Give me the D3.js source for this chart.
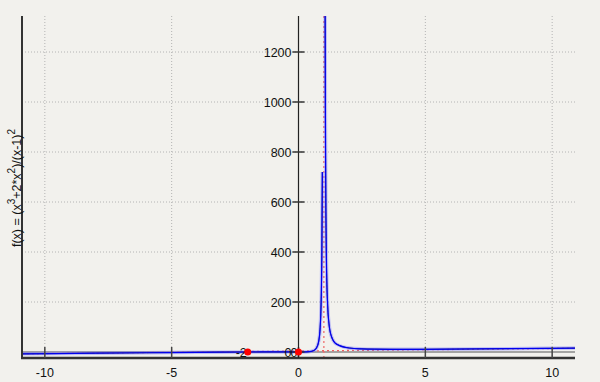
<!DOCTYPE html>
<html>
<head>
<meta charset="utf-8">
<script src="https://cdn.jsdelivr.net/npm/d3@7"></script>
<style>
  body { margin: 0; background: #f2f1ed; }
  svg { display: block; font-family: "Liberation Sans", Arial, sans-serif; }
</style>
</head>
<body>
<div id="chart"></div>
<script>
var margin = {top: 16, right: 25, bottom: 24, left: 22},
width = 600 - margin.left - margin.right,
height = 382 - margin.top - margin.bottom;

// curve values, left branch (x < 1) and right branch (x > 1)
var leftX = [-10.9, -8, -6, -4, -2, -1, 0, 0.3, 0.5, 0.6, 0.7, 0.8, 0.85, 0.88, 0.9, 0.92, 0.94];
var leftY = [-7.5, -4.7, -2.9, -1.3, 0, 0.25, 0, 0.4, 2.5, 5.9, 14.7, 44.8, 91.5, 155, 235, 386, 720];
var rightX = [1.05, 1.06, 1.08, 1.1, 1.15, 1.2, 1.3, 1.5, 2, 2.5, 3, 4, 5, 7, 10, 10.9];
var rightY = [1345, 955, 561, 375, 185, 115, 62, 31.5, 16, 12.5, 11.3, 10.7, 10.9, 12.3, 14.8, 15.6];

// zeros and asymptotes
var zeroX = [-2, 0];
var zeroLabels = ["-2", "0"];
var vAsymX = [1];
var obliqueX = [-10.9, 10.9];
var obliqueY = [-6.9, 14.9];

var xTicks = [-10, -5, 0, 5, 10];
var xTickLabels = ["-10", "-5", "0", "5", "10"];
var yTicks = [0, 200, 400, 600, 800, 1000, 1200];
var yTickLabels = ["0", "200", "400", "600", "800", "1000", "1200"];

var svg = d3.select("#chart").append("svg")
  .attr("width", 600)
  .attr("height", 382);

var g = svg.append("g")
  .attr("transform", "translate(" + margin.left + "," + margin.top + ")");

var x = d3.scaleLinear()
  .domain([-10.9, 10.9])
  .range([0, width]);

var y = d3.scaleLinear()
  .domain([-24, 1344])
  .range([height, 0]);

g.append("clipPath").attr("id", "plot")
  .append("rect").attr("width", width).attr("height", height);

// grid
g.selectAll(".vgrid")
  .data(xTicks.filter(function(d) { return d != 0 }))
  .enter().append("line")
  .attr("x1", function(d) { return x(d) })
  .attr("x2", function(d) { return x(d) })
  .attr("y1", 0).attr("y2", height)
  .attr("stroke", "#b4b4b4")
  .attr("stroke-dasharray", "1,2");

g.selectAll(".hgrid")
  .data(yTicks.filter(function(d) { return d != 0 }))
  .enter().append("line")
  .attr("x1", 0).attr("x2", width)
  .attr("y1", function(d) { return y(d) })
  .attr("y2", function(d) { return y(d) })
  .attr("stroke", "#b4b4b4")
  .attr("stroke-dasharray", "1,2");

// x axis line at y = 0
g.append("line")
  .attr("x1", 0).attr("x2", width)
  .attr("y1", y(0)).attr("y2", y(0))
  .attr("stroke", "#8a8a8a")
  .attr("stroke-width", 1.5);

var plot = g.append("g").attr("clip-path", "url(#plot)");

// asymptotes
plot.selectAll(".vasym")
  .data(vAsymX)
  .enter().append("line")
  .attr("x1", function(d) { return x(d) })
  .attr("x2", function(d) { return x(d) })
  .attr("y1", 0).attr("y2", height)
  .attr("stroke", "#f07070")
  .attr("stroke-width", 1.3)
  .attr("stroke-dasharray", "2,3");

plot.append("path")
  .datum(d3.zip(obliqueX, obliqueY))
  .attr("fill", "none")
  .attr("stroke", "#f06060")
  .attr("stroke-width", 1.3)
  .attr("stroke-dasharray", "2,3")
  .attr("d", d3.line()
    .x(function(d) { return x(d[0]) })
    .y(function(d) { return y(d[1]) }));

var branches = [d3.zip(leftX, leftY), d3.zip(rightX, rightY)];
var line = d3.line()
  .curve(d3.curveMonotoneX)
  .x(function(d) { return x(d[0]) })
  .y(function(d) { return y(d[1]) });

// black curve underneath
plot.selectAll(".black")
  .data(branches)
  .enter().append("path")
  .attr("fill", "none")
  .attr("stroke", "#000")
  .attr("stroke-width", 1)
  .attr("d", line);

// light blue band
plot.selectAll(".band")
  .data(branches)
  .enter().append("path")
  .attr("fill", "none")
  .attr("stroke", "#7070ff")
  .attr("stroke-opacity", 0.4)
  .attr("stroke-width", 3.5)
  .attr("d", line);

// blue curve
plot.selectAll(".blue")
  .data(branches)
  .enter().append("path")
  .attr("fill", "none")
  .attr("stroke", "#0000f0")
  .attr("stroke-width", 1.2)
  .attr("d", line);

// frame axes
g.append("line")
  .attr("x1", 0).attr("x2", 0)
  .attr("y1", 0).attr("y2", height + 1)
  .attr("stroke", "#333").attr("stroke-width", 2);
g.append("line")
  .attr("x1", -1).attr("x2", width)
  .attr("y1", height).attr("y2", height)
  .attr("stroke", "#333").attr("stroke-width", 2.5);

// x ticks on the bottom frame
g.selectAll(".xtick")
  .data(xTicks)
  .enter().append("line")
  .attr("x1", function(d) { return x(d) })
  .attr("x2", function(d) { return x(d) })
  .attr("y1", height).attr("y2", height - 11)
  .attr("stroke", "#444").attr("stroke-width", 1.5);

g.selectAll(".xlabel")
  .data(xTicks)
  .enter().append("text")
  .attr("x", function(d) { return x(d) })
  .attr("y", height + 19)
  .attr("text-anchor", "middle")
  .attr("font-size", 12.5)
  .attr("fill", "#111")
  .text(function(d, i) { return xTickLabels[i] });

// y axis through x = 0
g.append("line")
  .attr("x1", x(0)).attr("x2", x(0))
  .attr("y1", 0).attr("y2", height)
  .attr("stroke", "#222").attr("stroke-width", 1.2);

g.selectAll(".ytick")
  .data(yTicks)
  .enter().append("line")
  .attr("x1", x(0) - 6).attr("x2", x(0) + 6)
  .attr("y1", function(d) { return y(d) })
  .attr("y2", function(d) { return y(d) })
  .attr("stroke", "#333").attr("stroke-width", 1.5);

g.selectAll(".ylabel")
  .data(yTicks)
  .enter().append("text")
  .attr("x", x(0) - 7)
  .attr("y", function(d) { return y(d) + 4.5 })
  .attr("text-anchor", "end")
  .attr("font-size", 12.5)
  .attr("fill", "#111")
  .text(function(d, i) { return yTickLabels[i] });

// zeros
g.selectAll(".zlabel")
  .data(zeroX)
  .enter().append("text")
  .attr("x", function(d) { return x(d) - 1 })
  .attr("y", y(0) + 4.5)
  .attr("text-anchor", "end")
  .attr("font-size", 12.5)
  .attr("fill", "#111")
  .text(function(d, i) { return zeroLabels[i] });

g.selectAll(".zero")
  .data(zeroX)
  .enter().append("circle")
  .attr("cx", function(d) { return x(d) })
  .attr("cy", y(0))
  .attr("r", 3.5)
  .attr("fill", "#ff0000");

// y label with superscripts
var ylab = svg.append("text")
  .attr("transform", "translate(21,188) rotate(-90)")
  .attr("text-anchor", "middle")
  .attr("font-size", 12.5)
  .attr("fill", "#111");
ylab.append("tspan").text("f(x) = (x");
ylab.append("tspan").attr("dy", -6).attr("font-size", 10).text("3");
ylab.append("tspan").attr("dy", 6).text("+2*x");
ylab.append("tspan").attr("dy", -6).attr("font-size", 10).text("2");
ylab.append("tspan").attr("dy", 6).text(")/(x-1)");
ylab.append("tspan").attr("dy", -6).attr("font-size", 10).text("2");
</script>
</body>
</html>
